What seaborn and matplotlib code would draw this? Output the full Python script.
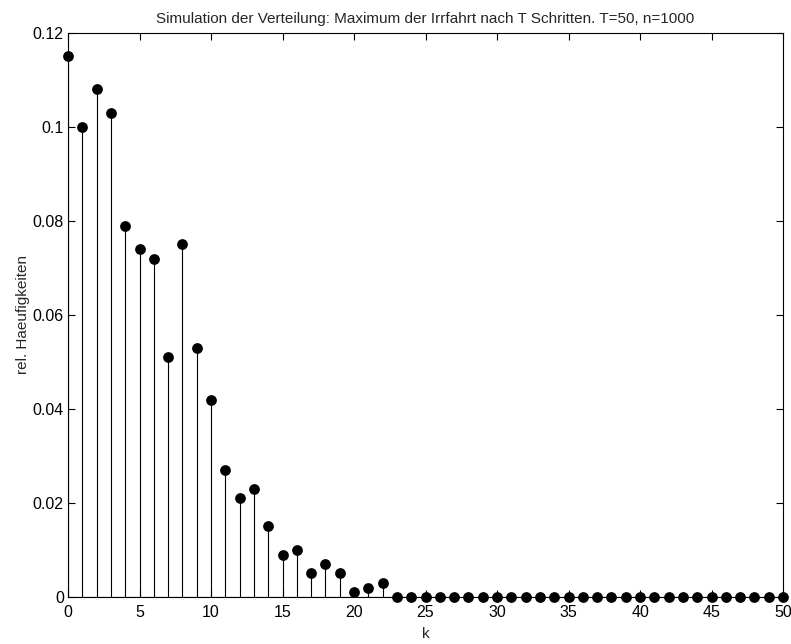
import matplotlib
matplotlib.use("Agg")
import matplotlib.pyplot as plt
import seaborn as sns
import numpy as np
import pandas as pd

k = list(range(0, 51))
freq = [0.115, 0.100, 0.108, 0.103, 0.079, 0.074, 0.072, 0.051, 0.075, 0.053,
        0.042, 0.027, 0.021, 0.023, 0.015, 0.009, 0.010, 0.005, 0.007, 0.005,
        0.001, 0.002, 0.003] + [0.0] * 28
xticks = [0, 5, 10, 15, 20, 25, 30, 35, 40, 45, 50]
yticks = [0, 0.02, 0.04, 0.06, 0.08, 0.1, 0.12]
yticklabels = ["0", "0.02", "0.04", "0.06", "0.08", "0.1", "0.12"]

sns.set_style("ticks")
plt.rcParams['font.family'] = ['Liberation Sans', 'DejaVu Sans']

df = pd.DataFrame({"k": k, "freq": freq})

fig = plt.figure(figsize=(7.91, 6.44), dpi=100)
ax = fig.add_axes([0.086, 0.073, 0.904, 0.876])

ax.vlines(df["k"], 0, df["freq"], color="black", linewidth=0.8)
ax.axhline(0, color="black", linewidth=0.8)
sns.scatterplot(data=df, x="k", y="freq", ax=ax, color="black", s=60,
                edgecolor="black", linewidth=0, zorder=3, clip_on=False)

ax.set_xlim(0, 50)
ax.set_ylim(0, 0.12)
ax.set_xticks(xticks)
ax.set_yticks(yticks)
ax.set_yticklabels(yticklabels)
ax.tick_params(direction="in", top=True, right=True, length=5, width=0.8,
               labelsize=11.5, colors="black", pad=3)
ax.tick_params(axis="x", pad=6)
for sp in ax.spines.values():
    sp.set_visible(True)
    sp.set_linewidth(0.8)
    sp.set_color("black")

ax.set_xlabel("k", fontsize=11, labelpad=5)
ax.set_ylabel("rel. Haeufigkeiten", fontsize=11, labelpad=2)
ax.set_title("Simulation der Verteilung: Maximum der Irrfahrt nach T Schritten. T=50, n=1000",
             fontsize=11, pad=7)

fig.savefig("out.png", dpi=100)
